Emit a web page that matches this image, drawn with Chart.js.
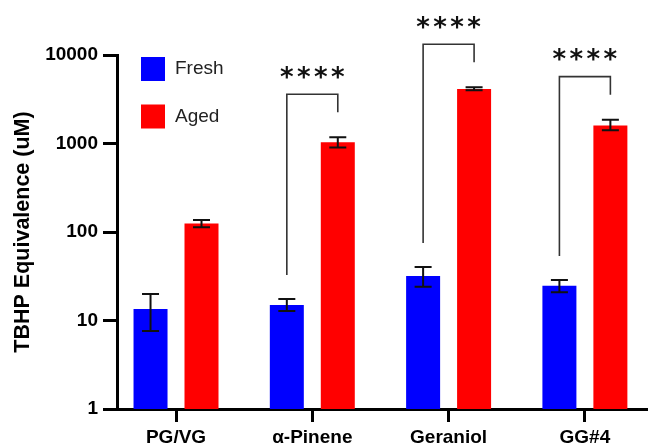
<!DOCTYPE html>
<html><head><meta charset="utf-8">
<script src="https://cdn.jsdelivr.net/npm/chart.js@4"></script>
<style>html,body{margin:0;padding:0;background:#fff}#wrap{width:648px;height:447px}</style>
</head><body><div id="wrap"><canvas id="c" width="648" height="447"></canvas></div>
<script>
const categories = ['PG/VG', 'α-Pinene', 'Geraniol', 'GG#4'];
const seriesNames = ['Fresh', 'Aged'];
const fresh = [13.5, 15.0, 31.8, 24.7];
const freshLow = [7.6, 12.8, 24.1, 20.8];
const freshHigh = [19.9, 17.5, 40.2, 28.7];
const aged = [125, 1030, 4130, 1600];
const agedLow = [113, 900, 3990, 1410];
const agedHigh = [137, 1175, 4315, 1860];
const yTicks = [1, 10, 100, 1000, 10000];
const significance = ['', '****', '****', '****'];
const yTitle = 'TBHP Equivalence (uM)';

const FONT = "'Liberation Sans', Arial, sans-serif";
const STAR_FONT = "'DejaVu Sans', sans-serif";
const colors = ['#0000FF', '#FF0000'];
const lows = [freshLow, agedLow];
const highs = [freshHigh, agedHigh];

const errorBars = {
  id: 'errorBars',
  afterDatasetsDraw(chart) {
    const ctx = chart.ctx, ys = chart.scales.y;
    ctx.save();
    ctx.strokeStyle = '#111';
    ctx.lineWidth = 2;
    chart.data.datasets.forEach((ds, d) => {
      chart.getDatasetMeta(d).data.forEach((bar, i) => {
        const x = bar.x;
        const y1 = ys.getPixelForValue(lows[d][i]);
        const y2 = ys.getPixelForValue(highs[d][i]);
        ctx.beginPath();
        ctx.moveTo(x, y1); ctx.lineTo(x, y2);
        ctx.moveTo(x - 8.5, y1); ctx.lineTo(x + 8.5, y1);
        ctx.moveTo(x - 8.5, y2); ctx.lineTo(x + 8.5, y2);
        ctx.stroke();
      });
    });
    ctx.restore();
  }
};

const brackets = {
  id: 'brackets',
  afterDatasetsDraw(chart) {
    const ctx = chart.ctx, ys = chart.scales.y;
    const m0 = chart.getDatasetMeta(0).data, m1 = chart.getDatasetMeta(1).data;
    ctx.save();
    significance.forEach((s, i) => {
      if (!s) return;
      const xL = m0[i].x, xR = m1[i].x;
      const leftEnd = ys.getPixelForValue(freshHigh[i]) - 24;
      const redTop = ys.getPixelForValue(agedHigh[i]);
      const top = redTop - 43;
      const rightEnd = top + 18;
      ctx.strokeStyle = '#333';
      ctx.lineWidth = 1.6;
      ctx.beginPath();
      ctx.moveTo(xL, leftEnd); ctx.lineTo(xL, top); ctx.lineTo(xR, top); ctx.lineTo(xR, rightEnd);
      ctx.stroke();
      ctx.fillStyle = '#111';
      ctx.font = 'bold 26px ' + STAR_FONT;
      ctx.textAlign = 'center';
      ctx.textBaseline = 'alphabetic';
      const cx = (xL + xR) / 2, cy = top - 22;
      const mt = ctx.measureText('*');
      const off = (mt.actualBoundingBoxAscent - mt.actualBoundingBoxDescent) / 2;
      const n = s.length, sp = 17;
      for (let k = 0; k < n; k++) {
        ctx.fillText(s[k], cx + (k - (n - 1) / 2) * sp, cy + off);
      }
    });
    ctx.restore();
  }
};

const legendBoxes = {
  id: 'legendBoxes',
  afterDraw(chart) {
    const ctx = chart.ctx;
    ctx.save();
    chart.data.datasets.forEach((ds, d) => {
      const y = 57 + d * 47.5;
      ctx.fillStyle = ds.backgroundColor;
      ctx.fillRect(141, y, 24, 24);
      ctx.fillStyle = '#222';
      ctx.font = '19px ' + FONT;
      ctx.textAlign = 'left';
      ctx.textBaseline = 'middle';
      ctx.fillText(ds.label, 175, y + 12);
    });
    ctx.restore();
  }
};

new Chart(document.getElementById('c'), {
  type: 'bar',
  data: {
    datasets: seriesNames.map((name, d) => ({
      label: name,
      data: categories.map((c, i) => ({ x: i, y: [fresh, aged][d][i] })),
      backgroundColor: colors[d],
      borderWidth: 0,
      categoryPercentage: 0.748,
      barPercentage: 0.667
    }))
  },
  options: {
    responsive: false,
    devicePixelRatio: 1,
    animation: false,
    layout: { padding: { top: 55, right: 0, bottom: 0, left: 0 } },
    plugins: { legend: { display: false }, tooltip: { enabled: false } },
    scales: {
      x: {
        type: 'linear',
        offset: false,
        min: -0.433,
        max: 3.463,
        afterBuildTicks: s => { s.ticks = categories.map((c, i) => ({ value: i })); },
        afterFit: s => { s.height = 38; },
        ticks: {
          callback: v => categories[v],
          font: { family: FONT, size: 19, weight: 'bold' },
          color: '#000',
          padding: 4,
          autoSkip: false,
          maxRotation: 0
        },
        grid: { offset: false, drawOnChartArea: false, drawTicks: true, tickLength: 13, tickWidth: 3, tickColor: '#000' },
        border: { display: true, width: 3, color: '#000' }
      },
      y: {
        type: 'logarithmic',
        min: 1,
        max: 10000,
        afterBuildTicks: s => { s.ticks = yTicks.map(v => ({ value: v })); },
        afterFit: s => { s.width = 117; },
        ticks: {
          callback: v => String(v),
          font: { family: FONT, size: 19, weight: 'bold' },
          color: '#000',
          padding: 5
        },
        grid: { drawOnChartArea: false, drawTicks: true, tickLength: 14, tickWidth: 3, tickColor: '#000' },
        border: { display: true, width: 3, color: '#000' },
        title: {
          display: true,
          text: yTitle,
          font: { family: FONT, size: 21.5, weight: 'bold' },
          color: '#000',
          padding: { top: 10, bottom: 0 }
        }
      }
    }
  },
  plugins: [errorBars, brackets, legendBoxes]
});
</script>
</body></html>
